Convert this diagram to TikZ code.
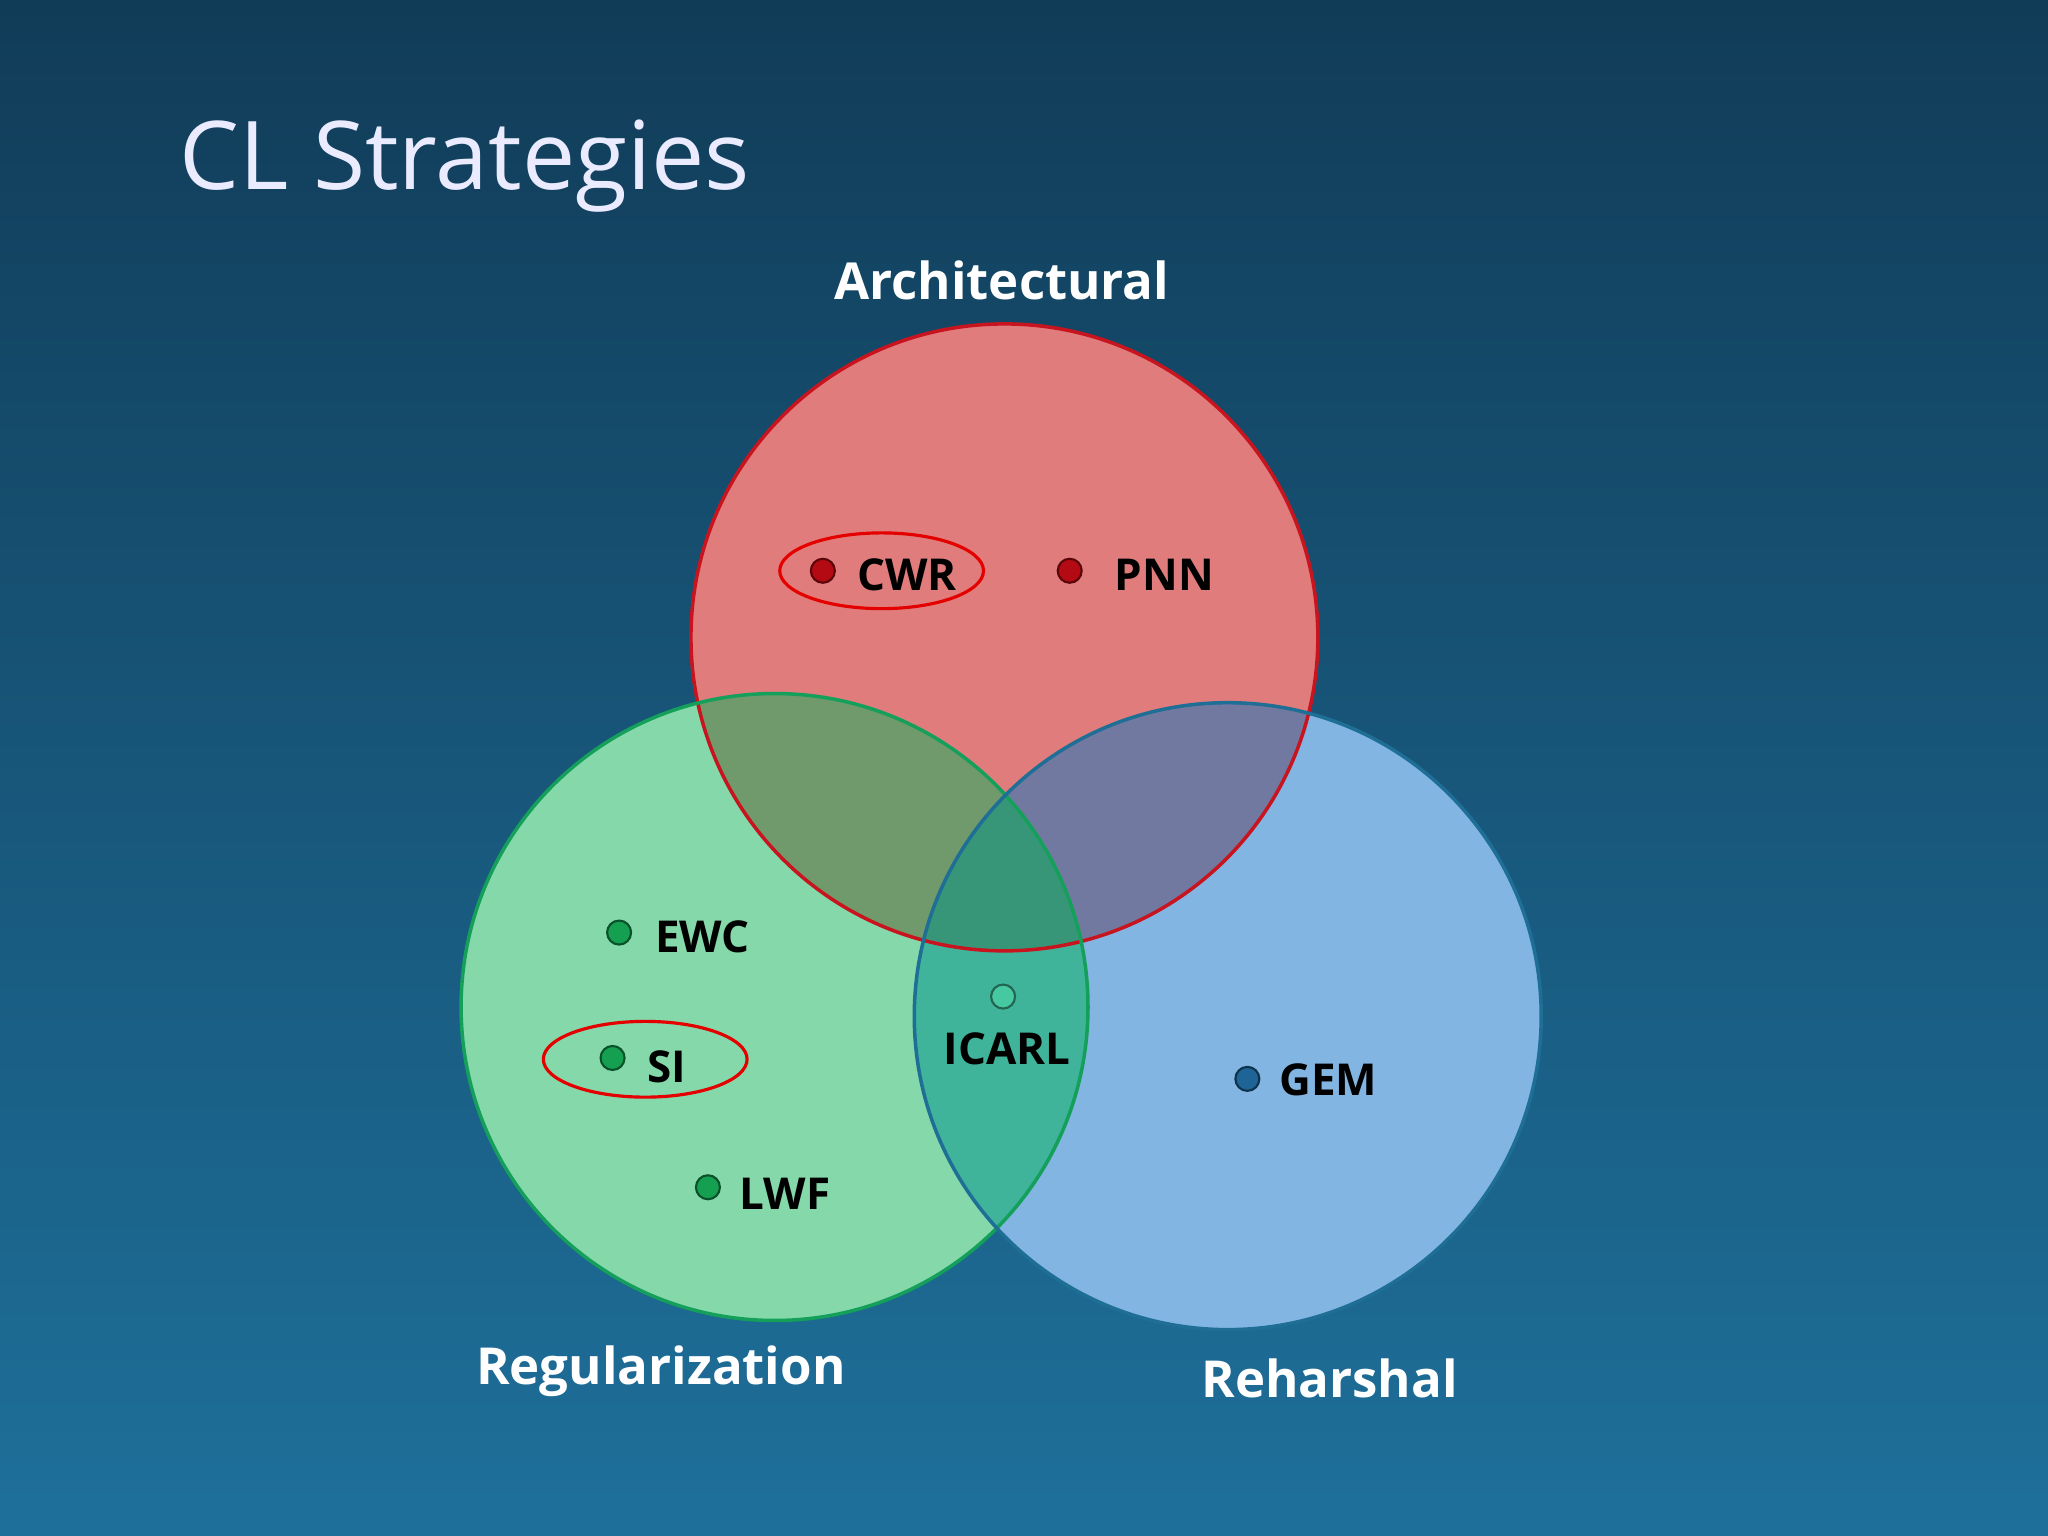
\documentclass[tikz,border=0pt]{standalone}
\usepackage{fontspec}
\setmainfont{Open Sans}
\definecolor{dred}{RGB}{180,10,20}
\definecolor{dgreen}{RGB}{20,160,80}
\definecolor{dteal}{RGB}{70,200,160}
\definecolor{dblue}{RGB}{30,100,150}
\begin{document}
\begin{tikzpicture}[x=0.013061cm,y=-0.013061cm,
  dotr/.style={circle,draw=#1!50!black,fill=#1,minimum size=0.24cm,inner sep=0pt,line width=0.6pt},
  lab/.style={font=\fontsize{12.5}{15}\selectfont\bfseries,text=black,anchor=west},
  cat/.style={font=\fontsize{14.5}{18}\selectfont\bfseries,text=white},
  ring/.style={draw=red!90!black,line width=0.9pt}]
\shade[top color={rgb,255:red,17;green,60;blue,88},bottom color={rgb,255:red,30;green,112;blue,155}] (0,0) rectangle (1568,1176);
\useasboundingbox (0,0) rectangle (1568,1176);
\node[font=\fontsize{27}{32}\selectfont,text=white!92!blue,anchor=west] (title) at (128,127) {CL Strategies};
\coordinate (R) at (769,488);
\coordinate (G) at (593,771);
\coordinate (B) at (940,778);
\fill[fill={rgb,255:red,224;green,124;blue,124}] (R) circle (240);
\fill[fill={rgb,255:red,132;green,216;blue,170}] (G) circle (240);
\fill[fill={rgb,255:red,130;green,181;blue,226}] (B) circle (240);
\begin{scope}\clip (R) circle (240); \fill[fill={rgb,255:red,112;green,154;blue,107}] (G) circle (240);\end{scope}
\begin{scope}\clip (R) circle (240); \fill[fill={rgb,255:red,114;green,121;blue,160}] (B) circle (240);\end{scope}
\begin{scope}\clip (G) circle (240); \fill[fill={rgb,255:red,64;green,180;blue,154}] (B) circle (240);\end{scope}
\begin{scope}\clip (G) circle (240); \clip (B) circle (240); \fill[fill={rgb,255:red,56;green,150;blue,120}] (R) circle (240);\end{scope}
\draw[draw={rgb,255:red,200;green,20;blue,30},line width=1pt] (R) circle (240);
\draw[draw={rgb,255:red,20;green,160;blue,90},line width=1pt] (G) circle (240);
\draw[draw={rgb,255:red,30;green,110;blue,150},line width=1pt] (B) circle (240);
\node[cat] (arch) at (767,215) {Architectural};
\node[cat] (reg) at (506,1050) {Regularization};
\node[cat] (reh) at (1018,1055) {Reharshal};
\draw[ring] (675,437) ellipse (78 and 29);
\draw[ring] (494,811) ellipse (78 and 29);
\node[dotr=dred] (d1) at (630,437) {};
\node[lab] (cwr) at (647,440) {CWR};
\node[dotr=dred] (d2) at (819,437) {};
\node[lab] (pnn) at (844,440) {PNN};
\node[dotr=dgreen] (d3) at (474,714) {};
\node[lab] (ewc) at (492,717) {EWC};
\node[dotr=dgreen] (d4) at (469,810) {};
\node[lab] (si) at (486,817) {SI};
\node[dotr=dgreen] (d5) at (542,909) {};
\node[lab] (lwf) at (557,914) {LWF};
\node[dotr=dteal] (d6) at (768,763) {};
\node[lab,anchor=center] (icarl) at (771,803) {ICARL};
\node[dotr=dblue] (d7) at (955,826) {};
\node[lab] (gem) at (970,827) {GEM};
\end{tikzpicture}
\end{document}
